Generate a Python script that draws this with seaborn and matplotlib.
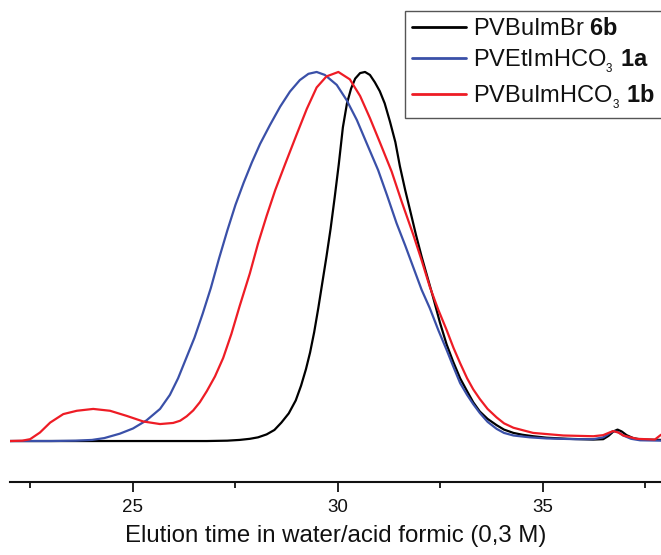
import numpy as np
import pandas as pd
import matplotlib
matplotlib.use("Agg")
import matplotlib.pyplot as plt
from matplotlib.ticker import MultipleLocator
import seaborn as sns

# Elution time (min) and normalised detector signal for each polymer
black_t = [22.0, 23.0, 24.0, 25.0, 26.0, 26.8, 27.3, 27.6, 27.85, 28.05, 28.26,
           28.45, 28.62, 28.8, 28.97, 29.1, 29.22, 29.32, 29.42, 29.52, 29.62,
           29.72, 29.82, 29.92, 30.02, 30.12, 30.22, 30.32, 30.42, 30.54, 30.66,
           30.78, 30.9, 31.02, 31.14, 31.27, 31.4, 31.51, 31.64, 31.76, 31.9,
           32.04, 32.18, 32.32, 32.49, 32.65, 32.81, 32.98, 33.15, 33.3, 33.46,
           33.65, 33.87, 34.05, 34.28, 34.5, 34.76, 35.09, 35.6, 36.23, 36.47,
           36.6, 36.72, 36.82, 36.92, 37.04, 37.2, 37.4, 37.88]
black_h = [0.0, 0.0, 0.0, 0.0, 0.0, 0.0, 0.001, 0.003, 0.006, 0.01, 0.018,
           0.03, 0.05, 0.075, 0.11, 0.15, 0.195, 0.24, 0.295, 0.36, 0.43,
           0.5, 0.575, 0.66, 0.75, 0.85, 0.915, 0.955, 0.982, 0.997, 1.0,
           0.992, 0.972, 0.948, 0.915, 0.865, 0.81, 0.745, 0.68, 0.625, 0.56,
           0.5, 0.445, 0.39, 0.32, 0.262, 0.215, 0.17, 0.135, 0.105, 0.08,
           0.06, 0.043, 0.031, 0.022, 0.017, 0.013, 0.009, 0.006, 0.004, 0.005,
           0.014, 0.026, 0.031, 0.026, 0.016, 0.008, 0.004, 0.003]

blue_t = [22.0, 23.0, 23.6, 24.0, 24.3, 24.68, 25.0, 25.33, 25.66, 25.9, 26.1,
          26.3, 26.5, 26.7, 26.9, 27.1, 27.3, 27.5, 27.7, 27.9, 28.1, 28.34,
          28.59, 28.83, 29.07, 29.28, 29.48, 29.68, 29.97, 30.21, 30.46, 30.7,
          30.98, 31.2, 31.43, 31.64, 31.84, 32.04, 32.24, 32.45, 32.65, 32.82,
          32.98, 33.15, 33.3, 33.46, 33.65, 33.87, 34.05, 34.28, 34.68, 35.09,
          35.8, 36.23, 36.47, 36.6, 36.71, 36.84, 36.96, 37.15, 37.37, 37.88]
blue_h = [0.0, 0.0, 0.001, 0.003, 0.008, 0.02, 0.034, 0.056, 0.087, 0.125, 0.17,
          0.225, 0.28, 0.345, 0.415, 0.495, 0.57, 0.64, 0.70, 0.755, 0.805, 0.856,
          0.906, 0.947, 0.978, 0.995, 1.0, 0.992, 0.965, 0.924, 0.87, 0.807,
          0.734, 0.665, 0.59, 0.53, 0.47, 0.41, 0.36, 0.30, 0.247, 0.20,
          0.157, 0.125, 0.10, 0.076, 0.052, 0.033, 0.022, 0.015, 0.01, 0.007,
          0.005, 0.005, 0.01, 0.019, 0.027, 0.024, 0.015, 0.006, 0.002, 0.001]

red_t = [22.0, 22.3, 22.49, 22.73, 22.98, 23.3, 23.63, 24.03, 24.44, 24.85, 25.25,
         25.66, 25.98, 26.15, 26.31, 26.47, 26.63, 26.8, 27.0, 27.2, 27.4, 27.6,
         27.85, 28.05, 28.26, 28.47, 28.71, 28.99, 29.24, 29.48, 29.72, 30.01,
         30.29, 30.54, 30.78, 31.02, 31.31, 31.55, 31.84, 32.04, 32.24, 32.45,
         32.65, 32.82, 32.98, 33.15, 33.3, 33.46, 33.65, 33.87, 34.05, 34.28,
         34.76, 35.5, 36.23, 36.47, 36.6, 36.71, 36.84, 36.96, 37.29, 37.73, 37.88]
red_h = [0.0, 0.001, 0.005, 0.023, 0.05, 0.073, 0.082, 0.087, 0.082, 0.068, 0.053,
         0.046, 0.049, 0.055, 0.067, 0.083, 0.105, 0.135, 0.175, 0.225, 0.29, 0.365,
         0.454, 0.535, 0.61, 0.68, 0.75, 0.83, 0.90, 0.958, 0.988, 1.0,
         0.98, 0.935, 0.875, 0.81, 0.73, 0.65, 0.558, 0.49, 0.418, 0.355,
         0.301, 0.252, 0.211, 0.17, 0.14, 0.114, 0.087, 0.064, 0.048, 0.036,
         0.022, 0.015, 0.013, 0.016, 0.022, 0.027, 0.023, 0.015, 0.006, 0.004, 0.017]

labels = ["PVBuImBr $\\mathbf{6b}$",
          "PVEtImHCO$_{_3}$ $\\mathbf{1a}$",
          "PVBuImHCO$_{_3}$ $\\mathbf{1b}$"]
colors = ["#000000", "#3a50a8", "#ee1c25"]
x_ticks = [25, 30, 35]
x_label = "Elution time in water/acid formic (0,3 M)"

frames = []
for lab, t, h in zip(labels, [black_t, blue_t, red_t], [black_h, blue_h, red_h]):
    frames.append(pd.DataFrame({"time": t, "signal": h, "sample": lab}))
df = pd.concat(frames, ignore_index=True)

sns.set_style("white")
plt.rcParams["font.family"] = ["Liberation Sans", "DejaVu Sans"]
plt.rcParams["mathtext.fontset"] = "custom"
plt.rcParams["mathtext.rm"] = "Liberation Sans"
plt.rcParams["mathtext.it"] = "Liberation Sans:italic"
plt.rcParams["mathtext.bf"] = "Liberation Sans:bold"
plt.rcParams["text.color"] = "#111111"
plt.rcParams["xtick.color"] = "#111111"
plt.rcParams["axes.labelcolor"] = "#111111"

fig = plt.figure(figsize=(6.61, 5.55), dpi=100)
ax = fig.add_axes([10 / 661, 73 / 555, 651 / 661, 482 / 555])

sns.lineplot(data=df, x="time", y="signal", hue="sample", hue_order=labels,
             palette=colors, sort=False, estimator=None, linewidth=1.6, ax=ax)

ax.set_xlim(22.0, 37.88)
ax.set_ylim(-0.111, 1.195)

for side in ["left", "right", "top"]:
    ax.spines[side].set_visible(False)
ax.spines["bottom"].set_linewidth(1.5)
ax.spines["bottom"].set_color("#111111")

ax.set_yticks([])
ax.set_ylabel("")
ax.set_xticks(x_ticks)
ax.xaxis.set_minor_locator(MultipleLocator(2.5))
ax.tick_params(axis="x", which="major", direction="out", length=7, width=1.3,
               labelsize=13.5, pad=5, bottom=True, color="#111111")
ax.tick_params(axis="x", which="minor", direction="out", length=4.5, width=1.3,
               bottom=True, color="#111111")
ax.set_xlabel(x_label, fontsize=17.3, labelpad=7)

handles, _ = ax.get_legend_handles_labels()
ax.legend_.remove()
leg = fig.legend(handles, labels, loc="upper left",
                 bbox_to_anchor=(405 / 661, 1 - 11 / 555, 262 / 661, 0.0),
                 mode="expand", fontsize=17, frameon=True, fancybox=False,
                 edgecolor="#555555", framealpha=1, borderpad=0.3,
                 labelspacing=0.3, handlelength=2.3, handletextpad=0.3,
                 borderaxespad=0)
leg.get_frame().set_linewidth(1.0)
for line in leg.get_lines():
    line.set_linewidth(2.0)

fig.savefig("out.png", dpi=100)
